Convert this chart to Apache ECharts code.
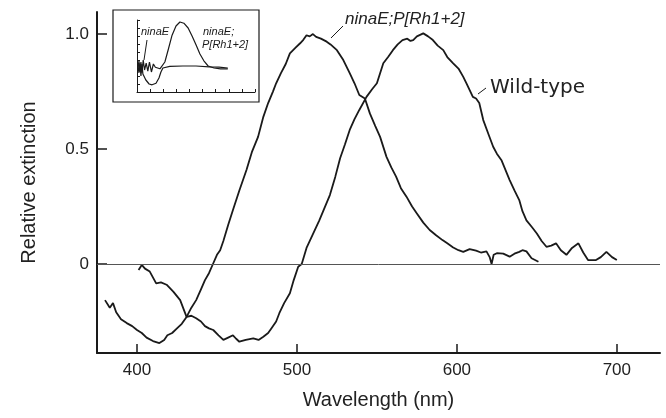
<!DOCTYPE html>
<html>
<head>
<meta charset="utf-8">
<script src="https://cdn.jsdelivr.net/npm/echarts@6/dist/echarts.min.js"></script>
<style>
  html, body { margin: 0; padding: 0; background: #fff; }
  #chart { width: 666px; height: 418px; }
</style>
</head>
<body>
<div id="chart"></div>
<script>
// ninaE;P[Rh1+2] difference spectrum (wavelength nm / relative extinction)
var waveA = [380, 383, 385, 387, 390, 393.6, 397, 400, 403, 406, 410, 414, 417, 419, 422, 425, 428, 431, 434, 437,
  440, 442.5, 445, 447.5, 450, 452, 454, 457, 460, 464, 468.5, 472, 475.7, 479, 482, 485, 487, 490, 493, 495.6,
  499, 502, 504, 506, 508, 510, 512, 515, 518.6, 521, 525, 529, 533, 536, 539, 542.5, 545.6, 549, 552, 556,
  559, 562, 565, 568.5, 572, 575, 579, 583, 587, 591, 594, 597.7, 601, 604, 608, 612, 615, 618.5, 620.5, 621.7,
  623, 625, 629, 633, 636, 639, 641, 643.5, 646.7, 651];
var extA = [-0.157, -0.19, -0.17, -0.21, -0.24, -0.257, -0.27, -0.287, -0.30, -0.32, -0.335, -0.344, -0.33, -0.31, -0.30, -0.28, -0.26, -0.23, -0.19, -0.157,
  -0.11, -0.07, -0.04, 0.0, 0.04, 0.06, 0.10, 0.17, 0.235, 0.32, 0.41, 0.49, 0.553, 0.64, 0.70, 0.75, 0.786, 0.83, 0.87, 0.916,
  0.94, 0.96, 0.975, 0.995, 0.99, 1.0, 0.988, 0.98, 0.967, 0.955, 0.93, 0.887, 0.83, 0.786, 0.735, 0.72, 0.655, 0.60, 0.553, 0.466,
  0.42, 0.38, 0.33, 0.293, 0.25, 0.22, 0.18, 0.148, 0.125, 0.104, 0.09, 0.072, 0.06, 0.053, 0.065, 0.058, 0.05, 0.055, 0.03, 0.0,
  0.04, 0.047, 0.045, 0.032, 0.045, 0.053, 0.06, 0.055, 0.025, 0.01];

// Wild-type
var waveB = [401, 403, 405, 408, 412, 415, 418.5, 422.7, 427, 431, 434, 437, 440, 442.5, 445, 447.7, 451, 454, 457, 460,
  462, 464, 468, 472.7, 476, 479, 482, 484, 487, 489, 492, 495.6, 498, 500.8, 503, 506, 510, 514, 517, 520.6,
  524, 527, 530, 533, 536, 539, 543.5, 547, 550, 552, 554, 557, 560, 563, 566, 569, 571, 572.7, 575, 579,
  582, 585, 588, 591.5, 594, 597.7, 601, 604, 606, 610, 612, 614, 616.5, 620, 622.7, 625, 628, 633, 636, 639,
  641, 643.5, 647, 650, 653, 656, 659, 662, 665, 668.5, 672, 676, 679, 682, 687, 690, 693.5, 697, 700];
var extB = [-0.026, -0.004, -0.02, -0.033, -0.084, -0.08, -0.09, -0.12, -0.157, -0.23, -0.225, -0.236, -0.25, -0.27, -0.28, -0.287, -0.31, -0.33, -0.32, -0.31,
  -0.325, -0.338, -0.33, -0.323, -0.33, -0.316, -0.30, -0.28, -0.25, -0.214, -0.17, -0.127, -0.07, -0.012, 0.0, 0.07, 0.13, 0.19, 0.24, 0.30,
  0.38, 0.46, 0.52, 0.583, 0.63, 0.67, 0.727, 0.76, 0.786, 0.83, 0.873, 0.90, 0.93, 0.955, 0.974, 0.98, 0.97, 0.974, 0.99, 1.003,
  0.99, 0.974, 0.95, 0.93, 0.90, 0.873, 0.85, 0.814, 0.786, 0.727, 0.72, 0.70, 0.626, 0.56, 0.51, 0.48, 0.45, 0.365, 0.32, 0.278,
  0.23, 0.19, 0.16, 0.133, 0.10, 0.075, 0.08, 0.09, 0.06, 0.04, 0.07, 0.09, 0.05, 0.017, 0.017, 0.03, 0.053, 0.03, 0.017];

// inset: ninaE and ninaE;P[Rh1+2]
var insetWaveN = [363, 366, 369, 372, 375, 378, 381, 387, 397, 406, 418, 427, 433, 439, 460, 500, 540, 580, 610, 637];
var insetExtN = [0.05, -0.12, 0.12, -0.2, 0.1, -0.15, -0.15, -0.3, -0.4, -0.42, -0.38, -0.25, -0.1, 0.0, 0.04, 0.05, 0.05, 0.03, 0.02, 0.0];
var insetWaveR = [363, 366, 369, 372, 375, 379, 383, 388, 393, 398, 404, 410, 416, 422, 430, 445, 455, 467, 479, 491,
  503, 516, 528, 540, 552, 564, 577, 595, 615, 637];
var insetExtR = [0.0, 0.18, -0.1, 0.15, -0.12, 0.2, -0.05, 0.12, -0.08, 0.15, -0.1, 0.1, 0.02, 0.05, -0.02, 0.15, 0.45, 0.82, 1.05, 1.15,
  1.12, 1.0, 0.8, 0.58, 0.35, 0.18, 0.05, 0.0, -0.02, -0.02];

var xTicks = [400, 500, 600, 700];
var yTicks = [0, 0.5, 1.0];

function zip(xs, ys) {
  var out = [];
  for (var i = 0; i < xs.length; i++) {
    out.push([xs[i], ys[i]]);
  }
  return out;
}

var ink = '#1a1a1a';
var chart = echarts.init(document.getElementById('chart'), null, { renderer: 'canvas' });

var option = {
  backgroundColor: '#ffffff',
  animation: false,
  grid: [
    { left: 97, right: 6, top: 12, bottom: 65 },
    { left: 137, top: 20, width: 118, height: 72 }
  ],
  xAxis: [{
    type: 'value',
    min: 375,
    max: 727,
    gridIndex: 0,
    name: 'Wavelength (nm)',
    nameLocation: 'middle',
    nameGap: 37,
    nameTextStyle: { fontFamily: 'Liberation Sans', fontSize: 20, color: '#222' },
    axisLine: { onZero: false, lineStyle: { color: ink, width: 2 } },
    axisTick: { inside: true, length: 9, customValues: xTicks, lineStyle: { color: ink, width: 1.5 } },
    axisLabel: { customValues: xTicks, fontFamily: 'Liberation Sans', fontSize: 17, color: '#222', margin: 9 },
    splitLine: { show: false }
  }, {
    type: 'value',
    min: 360,
    max: 720,
    interval: 40,
    gridIndex: 1,
    axisLine: { onZero: false, lineStyle: { color: ink, width: 1 } },
    axisTick: { inside: true, length: 3, lineStyle: { color: ink, width: 1 } },
    axisLabel: { show: false },
    splitLine: { show: false }
  }],
  yAxis: [{
    type: 'value',
    min: -0.387,
    max: 1.096,
    gridIndex: 0,
    name: 'Relative extinction',
    nameLocation: 'middle',
    nameGap: 58,
    nameTextStyle: { fontFamily: 'Liberation Sans', fontSize: 20, color: '#222' },
    axisLine: { show: true, onZero: false, lineStyle: { color: ink, width: 2 } },
    axisTick: { show: true, inside: true, length: 10, customValues: yTicks, lineStyle: { color: ink, width: 1.5 } },
    axisLabel: {
      customValues: yTicks,
      fontFamily: 'Liberation Sans',
      fontSize: 17,
      color: '#222',
      margin: 8,
      formatter: function (v) {
        return v === 0 ? '0' : v.toFixed(1);
      }
    },
    splitLine: { show: false }
  }, {
    type: 'value',
    min: -0.6,
    max: 1.2,
    interval: 0.2,
    gridIndex: 1,
    axisLine: { show: true, onZero: false, lineStyle: { color: ink, width: 1 } },
    axisTick: { show: true, inside: true, length: 3, lineStyle: { color: ink, width: 1 } },
    axisLabel: { show: false },
    splitLine: { show: false }
  }],
  series: [{
    name: 'ninaE;P[Rh1+2]',
    type: 'line',
    xAxisIndex: 0,
    yAxisIndex: 0,
    data: zip(waveA, extA),
    showSymbol: false,
    symbol: 'none',
    lineStyle: { color: ink, width: 1.8 },
    markLine: {
      silent: true,
      symbol: 'none',
      label: { show: false },
      lineStyle: { color: '#555', width: 1, type: 'solid' },
      data: [{ yAxis: 0 }]
    }
  }, {
    name: 'Wild-type',
    type: 'line',
    xAxisIndex: 0,
    yAxisIndex: 0,
    data: zip(waveB, extB),
    showSymbol: false,
    symbol: 'none',
    lineStyle: { color: ink, width: 1.8 }
  }, {
    name: 'ninaE (inset)',
    type: 'line',
    xAxisIndex: 1,
    yAxisIndex: 1,
    data: zip(insetWaveN, insetExtN),
    showSymbol: false,
    symbol: 'none',
    lineStyle: { color: ink, width: 1.2 }
  }, {
    name: 'ninaE;P[Rh1+2] (inset)',
    type: 'line',
    xAxisIndex: 1,
    yAxisIndex: 1,
    data: zip(insetWaveR, insetExtR),
    showSymbol: false,
    symbol: 'none',
    lineStyle: { color: ink, width: 1.2 }
  }],
  graphic: [
    // inset frame
    { type: 'rect', shape: { x: 113, y: 10, width: 146, height: 92 }, style: { fill: 'none', stroke: ink, lineWidth: 1.2 } },
    { type: 'text', style: { text: 'ninaE', x: 141, y: 32, font: 'italic 11px "Liberation Sans"', fill: ink, textAlign: 'left', textVerticalAlign: 'middle', align: 'left', verticalAlign: 'middle' } },
    { type: 'line', shape: { x1: 147, y1: 40, x2: 144, y2: 60 }, style: { stroke: ink, lineWidth: 1 } },
    { type: 'text', style: { text: 'ninaE;', x: 203, y: 32, font: 'italic 11px "Liberation Sans"', fill: ink, textAlign: 'left', textVerticalAlign: 'middle', align: 'left', verticalAlign: 'middle' } },
    { type: 'text', style: { text: 'P[Rh1+2]', x: 202, y: 45, font: 'italic 11px "Liberation Sans"', fill: ink, textAlign: 'left', textVerticalAlign: 'middle', align: 'left', verticalAlign: 'middle' } },
    // main annotations
    { type: 'text', style: { text: 'ninaE;P[Rh1+2]', x: 345, y: 19, font: 'italic 17px "Liberation Sans"', fill: '#222', textAlign: 'left', textVerticalAlign: 'middle', align: 'left', verticalAlign: 'middle' } },
    { type: 'line', shape: { x1: 331, y1: 38, x2: 343, y2: 26 }, style: { stroke: ink, lineWidth: 1 } },
    { type: 'text', style: { text: 'Wild-type', x: 490, y: 88, font: '20px "DejaVu Sans"', fill: '#222', textAlign: 'left', textVerticalAlign: 'middle', align: 'left', verticalAlign: 'middle' } },
    { type: 'line', shape: { x1: 478, y1: 94, x2: 486, y2: 88 }, style: { stroke: ink, lineWidth: 1 } }
  ]
};

chart.setOption(option);
</script>
</body>
</html>
